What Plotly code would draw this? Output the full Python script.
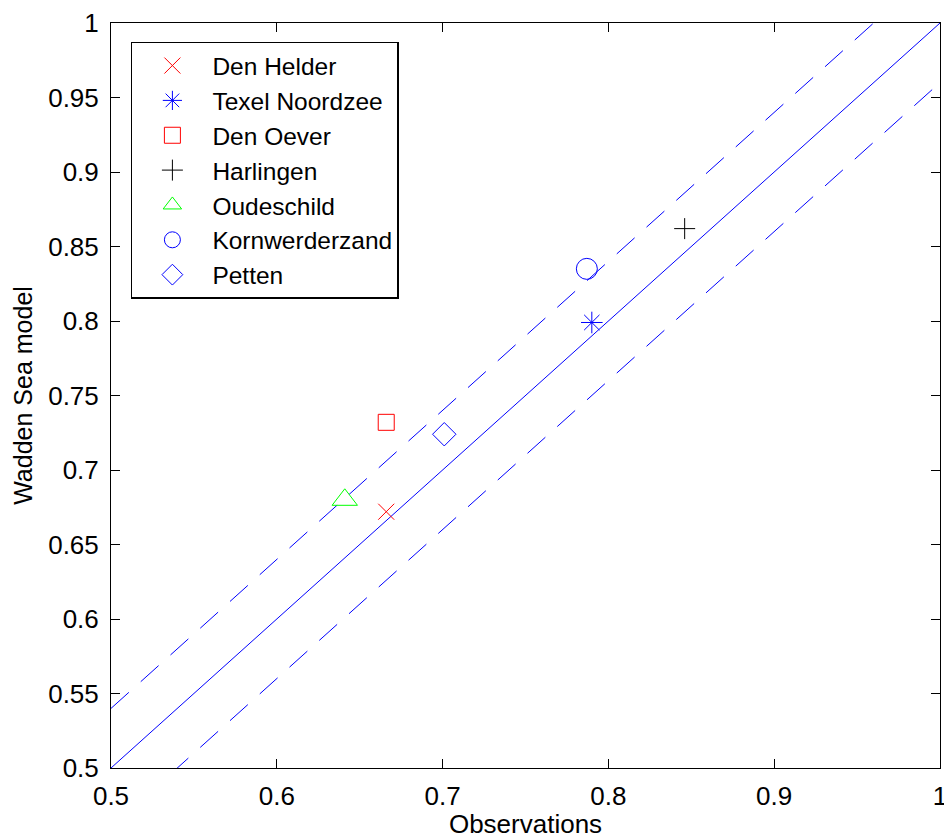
import plotly.graph_objects as go

# Station data: observations (x) vs Wadden Sea model (y)
stations = ["Den Helder", "Texel Noordzee", "Den Oever", "Harlingen",
            "Oudeschild", "Kornwerderzand", "Petten"]
obs = [0.666, 0.790, 0.666, 0.846, 0.641, 0.787, 0.701]
model = [0.672, 0.799, 0.732, 0.862, 0.680, 0.835, 0.724]
symbols = ["x-thin-open", "asterisk-open", "square-open", "cross-thin-open",
           "triangle-up-open", "circle-open", "diamond-open"]
colors = ["#ff0000", "#0000ff", "#ff0000", "#000000",
          "#00ff00", "#0000ff", "#0000ff"]
sizes = [16, 18, 16, 15, 22, 21, 18]

# Reference lines: y = x and y = x +/- offset
line_x = [0.5, 1.0]
offset = 0.04

ticks = [0.5, 0.6, 0.7, 0.8, 0.9, 1.0]
yticks = [0.5, 0.55, 0.6, 0.65, 0.7, 0.75, 0.8, 0.85, 0.9, 0.95, 1.0]

FONT = "Liberation Sans, Arial, sans-serif"

fig = go.Figure()

fig.add_trace(go.Scatter(x=line_x, y=line_x, mode="lines",
                         line=dict(color="#0000ff", width=1),
                         showlegend=False, hoverinfo="skip"))
fig.add_trace(go.Scatter(x=line_x, y=[v + offset for v in line_x], mode="lines",
                         line=dict(color="#0000ff", width=1, dash="24px,16px"),
                         showlegend=False, hoverinfo="skip"))
fig.add_trace(go.Scatter(x=line_x, y=[v - offset for v in line_x], mode="lines",
                         line=dict(color="#0000ff", width=1, dash="24px,16px"),
                         showlegend=False, hoverinfo="skip"))

for i, name in enumerate(stations):
    fig.add_trace(go.Scatter(
        x=[obs[i]], y=[model[i]], mode="markers", name=name,
        legendgroup=name,
        marker=dict(symbol=symbols[i], size=sizes[i], color=colors[i],
                    line=dict(color=colors[i], width=1)),
        cliponaxis=False))

axis_common = dict(
    showline=True, linecolor="black", linewidth=1, mirror="ticks",
    ticks="inside", ticklen=9, tickwidth=1, tickcolor="black",
    showgrid=False, zeroline=False,
    tickfont=dict(family=FONT, size=26, color="black"),
    ticklabeloverflow="allow",
)

fig.update_xaxes(range=[0.5, 1.0], tickvals=ticks,
                 ticktext=[f"{t:g}" for t in ticks],
                 title=dict(text="Observations", standoff=13,
                            font=dict(family=FONT, size=26, color="black")),
                 ticklabelstandoff=5,
                 **axis_common)
fig.update_yaxes(range=[0.5, 1.0], tickvals=yticks,
                 ticktext=[f"{t:g}" for t in yticks],
                 title=dict(text="Wadden Sea model", standoff=8,
                            font=dict(family=FONT, size=25, color="black")),
                 ticklabelstandoff=6,
                 **axis_common)

fig.update_layout(
    width=944, height=839,
    margin=dict(l=111, r=4, t=23, b=71, autoexpand=False),
    plot_bgcolor="white", paper_bgcolor="white",
    font=dict(family=FONT, size=25, color="black"),
    legend=dict(x=0.024, y=0.975, xanchor="left", yanchor="top",
                bgcolor="white", bordercolor="black", borderwidth=1.5,
                font=dict(family=FONT, size=24.5, color="black"),
                itemwidth=70, tracegroupgap=0),
)

fig.write_html("out.html")
